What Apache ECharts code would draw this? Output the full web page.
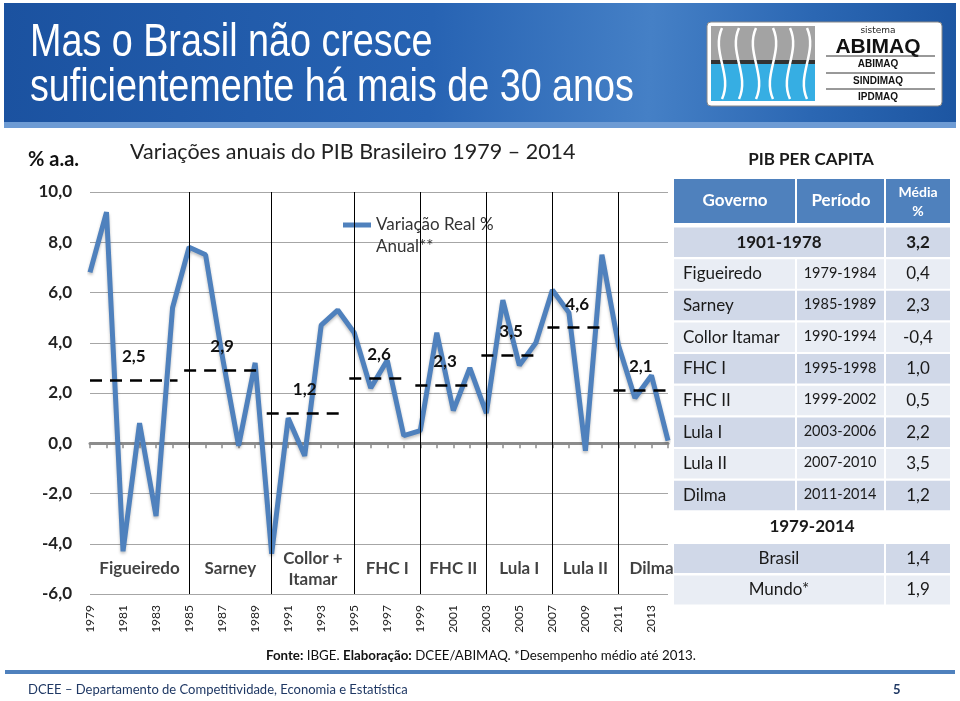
<!DOCTYPE html>
<html><head><meta charset="utf-8">
<script src="https://cdn.jsdelivr.net/npm/echarts@6/dist/echarts.min.js"></script>
<style>html,body{margin:0;padding:0;background:#fff}#c{width:960px;height:701px}</style>
</head><body><div id="c"></div>
<script>
// ---- data ----
const years = [1979,1980,1981,1982,1983,1984,1985,1986,1987,1988,1989,1990,1991,1992,1993,1994,1995,1996,1997,1998,1999,2000,2001,2002,2003,2004,2005,2006,2007,2008,2009,2010,2011,2012,2013,2014];
const growth = [6.8,9.2,-4.3,0.8,-2.9,5.4,7.8,7.5,3.5,-0.1,3.2,-4.4,1.0,-0.5,4.7,5.3,4.4,2.2,3.3,0.3,0.5,4.4,1.3,3.0,1.2,5.7,3.1,4.0,6.1,5.2,-0.3,7.5,3.9,1.8,2.7,0.1];
const govNames = ['Figueiredo','Sarney','Collor +\nItamar','FHC I','FHC II','Lula I','Lula II','Dilma'];
const govStart = [1979,1985,1990,1995,1999,2003,2007,2011];
const govEnd   = [1984,1989,1994,1998,2002,2006,2010,2014];
const govAvg   = [2.5,2.9,1.2,2.6,2.3,3.5,4.6,2.1];
const yTicks = {min:-6, max:10, step:2};

const tblGov    = ['Figueiredo','Sarney','Collor Itamar','FHC I','FHC II','Lula I','Lula II','Dilma'];
const tblPeriod = ['1979-1984','1985-1989','1990-1994','1995-1998','1999-2002','2003-2006','2007-2010','2011-2014'];
const tblAvg    = [0.4,2.3,-0.4,1.0,0.5,2.2,3.5,1.2];
const histPeriod = '1901-1978', histAvg = 3.2;
const cmpNames = ['Brasil','Mundo*'];
const cmpAvg = [1.4,1.9];

// ---- helpers ----
const fmt = v => v.toFixed(1).replace('.', ',');
const F = 'Lato, "Noto Sans", sans-serif';
const chart = echarts.init(document.getElementById('c'));

const xMin = years[0], xMax = years[years.length-1];
const markData = [];
govStart.slice(1).forEach(s => markData.push({xAxis: s, lineStyle:{type:'solid', color:'#000', width:1}, label:{show:false}}));
govAvg.forEach((v,i) => {
  const a = Math.max(xMin, govStart[i]-0.3), b = Math.min(xMax, govEnd[i]+0.3);
  markData.push([
    {coord:[a, v], lineStyle:{type:[12,8], color:'#000', width:2.5},
     label:{show:true, position:'middle', formatter: fmt(v), fontFamily:F, fontWeight:'bold', fontSize:17, color:'#111', distance:15}},
    {coord:[b, v]}
  ]);
});
const govLabelData = govNames.map((n,i) => {
  const next = i < govStart.length-1 ? govStart[i+1] : govEnd[i]+1;
  return {name:n, value:[(govStart[i]+next)/2, -5.0]};
});

// ---- graphics (slide decoration & table) ----
const G = [];
const NARROW = '46px "Liberation Sans", Arial, sans-serif';
G.push({type:'rect', shape:{x:4,y:3,width:952,height:121}, style:{fill:{type:'linear',x:0,y:0,x2:1,y2:0.3,colorStops:[{offset:0,color:'#1b52a0'},{offset:0.45,color:'#2763b3'},{offset:0.68,color:'#4580c6'},{offset:0.85,color:'#2b67b3'},{offset:1,color:'#1d56a2'}]}}, z:0});
G.push({type:'rect', shape:{x:4,y:122,width:952,height:6}, style:{fill:'#6d9bd4'}, z:1});
G.push({type:'text', x:30, y:43, scaleX:0.82, style:{text:'Mas o Brasil não cresce', x:0, y:0, fill:'#fff', font:NARROW, textVerticalAlign:'middle', verticalAlign:'middle'}, z:2});
G.push({type:'text', x:30, y:88, scaleX:0.82, style:{text:'suficientemente há mais de 30 anos', x:0, y:0, fill:'#fff', font:NARROW, textVerticalAlign:'middle', verticalAlign:'middle'}, z:2});
// logo
G.push({type:'rect', shape:{x:707,y:22,width:235,height:84,r:4}, style:{fill:'#fff', stroke:'#888', lineWidth:1}, z:2});
G.push({type:'rect', shape:{x:711,y:26,width:104,height:35}, style:{fill:'#a3a3a3'}, z:3});
G.push({type:'rect', shape:{x:711,y:60,width:104,height:4}, style:{fill:'#333'}, z:3});
G.push({type:'rect', shape:{x:711,y:64,width:104,height:37}, style:{fill:'#36aee3'}, z:3});
for (let i=0;i<6;i++){
  const x0 = 722 + i*17;
  G.push({type:'bezierCurve', shape:{x1:x0,y1:28,cpx1:x0-(i<3?11:-11),cpy1:52,cpx2:x0+(i<3?11:-11),cpy2:75,x2:x0,y2:99}, style:{stroke:'#fff', lineWidth:2.5, fill:null}, z:4});
}
G.push({type:'text', style:{text:'sistema', x:878, y:31, fill:'#222', font:'9px "DejaVu Sans", sans-serif', textAlign:'center', align:'center', textVerticalAlign:'middle', verticalAlign:'middle'}, z:4});
G.push({type:'text', style:{text:'ABIMAQ', x:878, y:47, fill:'#111', font:'bold 21px "Liberation Sans", sans-serif', textAlign:'center', align:'center', textVerticalAlign:'middle', verticalAlign:'middle'}, z:4});
[['ABIMAQ',64],['SINDIMAQ',81],['IPDMAQ',97]].forEach((t,k)=>{
  G.push({type:'line', shape:{x1:826,y1:t[1]-8,x2:935,y2:t[1]-8}, style:{stroke:'#333', lineWidth:1}, z:4});
  G.push({type:'text', style:{text:t[0], x:878, y:t[1], fill:'#111', font:'bold 10px "Liberation Sans", sans-serif', textAlign:'center', align:'center', textVerticalAlign:'middle', verticalAlign:'middle'}, z:4});
});
// chart titles
G.push({type:'text', style:{text:'% a.a.', x:28, y:160, fill:'#111', font:'bold 20px '+F, textVerticalAlign:'middle', verticalAlign:'middle'}, z:5});
G.push({type:'text', style:{text:'Variações anuais do PIB Brasileiro 1979 – 2014', x:130, y:152, fill:'#222', font:'21.5px '+F, textVerticalAlign:'middle', verticalAlign:'middle'}, z:5});
// table
const cx = [674,797,886], cw = [121,87,64];
const dark = '#d0d8e8', light = '#e9edf4', head = '#4f81bd';
const T = (text,x,y,opt) => G.push({type:'text', style:Object.assign({text, x, y, fill:'#1a1a1a', font:'17px '+F, textAlign:'left', align:'left', textVerticalAlign:'middle', verticalAlign:'middle'}, opt||{}), z:6});
const R = (x,y,w,h,fill) => G.push({type:'rect', shape:{x,y,width:w,height:h}, style:{fill}, z:5});
T('PIB PER CAPITA', 811, 160, {font:'bold 17px '+F, textAlign:'center', align:'center'});
for (let c=0;c<3;c++) R(cx[c],179,cw[c],44,head);
T('Governo', 735, 201, {fill:'#fff', font:'bold 17px '+F, textAlign:'center', align:'center'});
T('Período', 841, 201, {fill:'#fff', font:'bold 17px '+F, textAlign:'center', align:'center'});
T('Média', 918, 192, {fill:'#fff', font:'bold 14px '+F, textAlign:'center', align:'center'});
T('%', 918, 211, {fill:'#fff', font:'bold 14px '+F, textAlign:'center', align:'center'});
const r0 = 227.5, step = 31.65, rh = 29.5;
R(cx[0], r0, cw[0]+2+cw[1], rh, dark); R(cx[2], r0, cw[2], rh, dark);
T(histPeriod, 779, r0+rh/2, {font:'bold 17px '+F, textAlign:'center', align:'center'});
T(fmt(histAvg), 918, r0+rh/2, {font:'bold 17px '+F, textAlign:'center', align:'center'});
tblGov.forEach((g,i)=>{
  const y = r0 + (i+1)*step, bg = (i%2===0)? light : dark;
  for (let c=0;c<3;c++) R(cx[c], y, cw[c], rh, bg);
  T(g, 683, y+rh/2);
  T(tblPeriod[i], 840, y+rh/2-1, {font:'14.5px '+F, textAlign:'center', align:'center'});
  T(fmt(tblAvg[i]), 918, y+rh/2, {textAlign:'center', align:'center'});
});
T('1979-2014', 812, 527, {font:'bold 17px '+F, textAlign:'center', align:'center'});
cmpNames.forEach((n,i)=>{
  const y = 544 + i*31.5, bg = i===0 ? dark : light;
  R(cx[0], y, cw[0]+2+cw[1], 29, bg); R(cx[2], y, cw[2], 29, bg);
  T(n, 779, y+14.5, {textAlign:'center', align:'center'});
  T(fmt(cmpAvg[i]), 918, y+14.5, {textAlign:'center', align:'center'});
});
// footer
G.push({type:'text', style:{text:'{b|Fonte:} IBGE. {b|Elaboração:} DCEE/ABIMAQ. *Desempenho médio até 2013.', x:266, y:656, fill:'#111', font:'13.3px '+F, textVerticalAlign:'middle', verticalAlign:'middle', rich:{b:{fontWeight:'bold', fontFamily:'Lato', fontSize:13.3, fill:'#111'}}}, z:6});
G.push({type:'rect', shape:{x:5,y:670,width:950,height:4}, style:{fill:'#4f81bd'}, z:6});
G.push({type:'text', style:{text:'DCEE – Departamento de Competitividade, Economia e Estatística', x:28, y:690, fill:'#1f3864', font:'13px '+F, textVerticalAlign:'middle', verticalAlign:'middle'}, z:6});
G.push({type:'text', style:{text:'5', x:893, y:690, fill:'#1f3864', font:'bold 13px '+F, textVerticalAlign:'middle', verticalAlign:'middle'}, z:6});

const lineName = 'Variação Real % Anual**';
chart.setOption({
  animation:false,
  textStyle:{fontFamily:F},
  graphic:{elements:G},
  grid:{left:90, right:292, top:192, bottom:107},
  legend:{data:[lineName], left:343, top:192, padding:0, itemWidth:28, itemHeight:5, icon:'rect',
    formatter: () => ' \nVariação Real %\nAnual**',
    textStyle:{fontFamily:F, fontSize:17, color:'#333', lineHeight:22}},
  xAxis:[
    {type:'value', min:xMin, max:xMax, interval:1, position:'bottom',
     axisLine:{show:false, onZero:false}, axisTick:{show:false}, splitLine:{show:false},
     axisLabel:{rotate:90, fontSize:12, color:'#222', margin:11, fontFamily:F, formatter: v => (v%2===1 ? String(v) : '')}},
    {type:'value', min:xMin, max:xMax, interval:1, position:'bottom',
     axisLine:{show:true, onZero:true, lineStyle:{color:'#8c8c8c', width:3}},
     axisTick:{show:true, length:5, lineStyle:{color:'#8c8c8c', width:1.5}},
     axisLabel:{show:false}, splitLine:{show:false}}
  ],
  yAxis:{type:'value', min:yTicks.min, max:yTicks.max, interval:yTicks.step,
    axisLine:{show:false}, axisTick:{show:false},
    splitLine:{lineStyle:{color:'#a6a6a6', width:1}},
    axisLabel:{fontSize:17, fontWeight:'bold', color:'#222', margin:18, fontFamily:F, formatter: v => fmt(v)}},
  series:[
    {name:lineName, type:'line', xAxisIndex:0, symbol:'none', z:4,
     data: years.map((y,i)=>[y, growth[i]]),
     lineStyle:{color:'#4f81bd', width:5, shadowColor:'rgba(0,0,0,0.25)', shadowBlur:3, shadowOffsetY:2},
     itemStyle:{color:'#4f81bd'},
     markLine:{silent:true, symbol:'none', animation:false, data:markData}},
    {name:'gov', type:'scatter', xAxisIndex:0, symbolSize:0, silent:true, z:5,
     data: govLabelData,
     label:{show:true, position:'inside', formatter: p => p.name, fontFamily:F, fontWeight:'bold', fontSize:17, color:'#111', lineHeight:21}}
  ]
});
</script></body></html>
